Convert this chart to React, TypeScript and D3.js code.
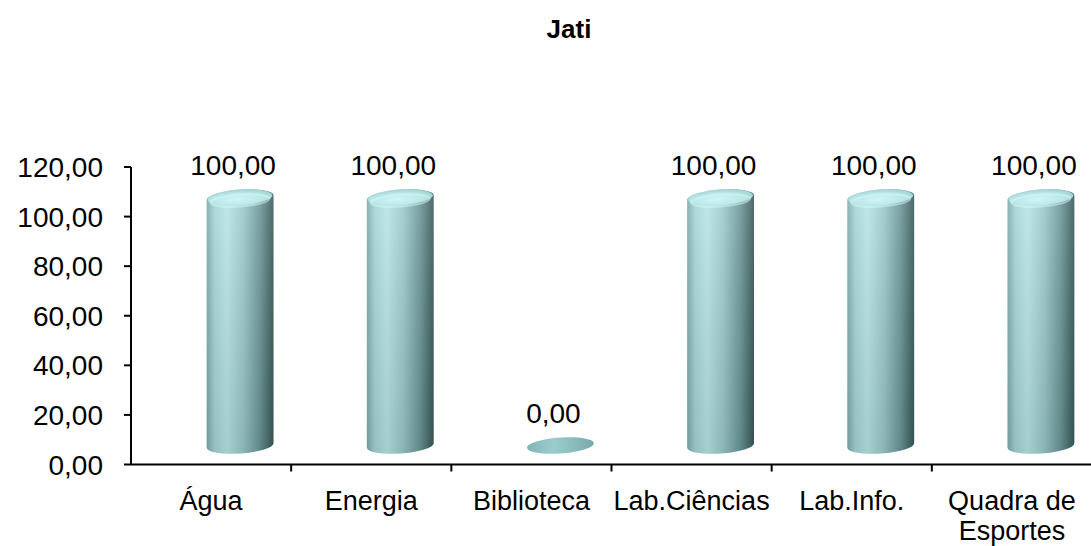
import * as d3 from "d3";

const categories = ["Água", "Energia", "Biblioteca", "Lab.Ciências", "Lab.Info.", "Quadra de Esportes"];
const values = [100, 100, 0, 100, 100, 100];
const yTicks = [0, 20, 40, 60, 80, 100, 120];
const title = "Jati";

const W = 1091;
const H = 546;
const FONT = "'Liberation Sans', Arial, sans-serif";

const fmt = (v: number) => v.toFixed(2).replace(".", ",");

// split long labels onto two lines at the last space
const wrap = (s: string) => {
  if (s.length <= 12 || s.indexOf(" ") < 0) return [s];
  const i = s.lastIndexOf(" ");
  return [s.slice(0, i), s.slice(i + 1)];
};

export default function App() {
  const x = d3.scaleBand<string>().domain(categories).range([131, 1092]).padding(0);
  const y = d3.scaleLinear().domain([0, 120]).range([464.5, 167]);
  const bw = x.bandwidth();

  // 3D depth shift of the cylinders
  const depthX = 29;
  const depthY = -19;
  const rx = 33.5;
  const ry = 8;
  const tilt = (-4 * Math.PI) / 180;
  const ex = rx * Math.cos(tilt);
  const ey = rx * Math.sin(tilt);

  const x0 = 131;
  const y0 = y(0);

  return (
    <svg
      width={W}
      height={H}
      style={{ position: "absolute", left: 0, top: 0, background: "#fff" }}
    >
      <defs>
        <linearGradient id="body" x1="0" x2="1" y1="0" y2="0">
          <stop offset="0%" stopColor="#7aabab" />
          <stop offset="12%" stopColor="#a6d6d6" />
          <stop offset="30%" stopColor="#b8e5e5" />
          <stop offset="55%" stopColor="#9ac8c8" />
          <stop offset="80%" stopColor="#6a9696" />
          <stop offset="100%" stopColor="#3a5757" />
        </linearGradient>
        <linearGradient id="shade" x1="0" x2="0" y1="0" y2="1">
          <stop offset="0%" stopColor="#ffffff" stopOpacity={0.12} />
          <stop offset="100%" stopColor="#000000" stopOpacity={0.1} />
        </linearGradient>
        <radialGradient id="cap" cx="45%" cy="60%" r="60%">
          <stop offset="0%" stopColor="#d0f6f6" />
          <stop offset="70%" stopColor="#b8e6e6" />
          <stop offset="100%" stopColor="#a0d0d0" />
        </radialGradient>
        <linearGradient id="disc" x1="0" x2="1" y1="0" y2="0">
          <stop offset="0%" stopColor="#7fb5b5" />
          <stop offset="40%" stopColor="#9ccdcd" />
          <stop offset="100%" stopColor="#79aaaa" />
        </linearGradient>
      </defs>

      {/* title */}
      <text x={569} y={38} textAnchor="middle" fontFamily={FONT} fontWeight="bold" fontSize={26}>
        {title}
      </text>

      {/* cylinders */}
      {categories.map((c, i) => {
        const v = values[i];
        const cx = (x(c) as number) + bw / 2 + depthX;
        const baseY = y(0) + depthY;
        const topY = y(v) + depthY;
        const label = (
          <text
            x={cx - 7}
            y={topY - 23}
            textAnchor="middle"
            fontFamily={FONT}
            fontSize={28}
          >
            {fmt(v)}
          </text>
        );
        if (v === 0) {
          return (
            <g key={c}>
              <ellipse
                cx={cx}
                cy={baseY}
                rx={rx}
                ry={ry}
                transform={`rotate(-4 ${cx} ${baseY})`}
                fill="url(#disc)"
              />
              {label}
            </g>
          );
        }
        const body =
          `M${cx - ex},${topY - ey} L${cx - ex},${baseY - ey} ` +
          `A${rx},${ry} -4 0 0 ${cx + ex},${baseY + ey} ` +
          `L${cx + ex},${topY + ey} ` +
          `A${rx},${ry} -4 0 0 ${cx - ex},${topY - ey} Z`;
        return (
          <g key={c}>
            <path d={body} fill="url(#body)" />
            <path d={body} fill="url(#shade)" />
            <ellipse
              cx={cx}
              cy={topY}
              rx={rx - 1}
              ry={ry}
              transform={`rotate(-4 ${cx} ${topY})`}
              fill="url(#cap)"
            />
            <ellipse
              cx={cx}
              cy={topY + 3}
              rx={rx - 4}
              ry={ry - 2}
              transform={`rotate(-4 ${cx} ${topY + 3})`}
              fill="none"
              stroke="#d8fafa"
              strokeOpacity={0.5}
              strokeWidth={2}
            />
            {label}
          </g>
        );
      })}

      {/* y axis */}
      <line x1={x0} x2={x0} y1={y(120)} y2={y0} stroke="#000" strokeWidth={2} />
      {yTicks.map((t) => (
        <g key={t}>
          <line x1={x0 - 7} x2={x0} y1={y(t)} y2={y(t)} stroke="#000" strokeWidth={2} />
          <text
            x={103}
            y={y(t)}
            dy="0.36em"
            textAnchor="end"
            fontFamily={FONT}
            fontSize={28}
          >
            {fmt(t)}
          </text>
        </g>
      ))}

      {/* x axis */}
      <line x1={x0} x2={W} y1={y0} y2={y0} stroke="#000" strokeWidth={2} />
      {categories.map((c) => {
        const right = (x(c) as number) + bw;
        return (
          <line key={c} x1={right} x2={right} y1={y0} y2={y0 + 7} stroke="#000" strokeWidth={2} />
        );
      })}
      {categories.map((c) => {
        const cx = (x(c) as number) + bw / 2;
        return (
          <text key={c} x={cx} y={510} textAnchor="middle" fontFamily={FONT} fontSize={27}>
            {wrap(c).map((line, j) => (
              <tspan key={j} x={cx} dy={j === 0 ? 0 : 30}>
                {line}
              </tspan>
            ))}
          </text>
        );
      })}
    </svg>
  );
}
